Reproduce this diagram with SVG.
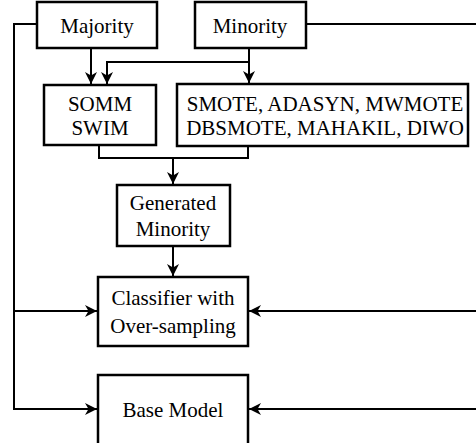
<svg xmlns="http://www.w3.org/2000/svg" width="476" height="443" viewBox="0 0 476 443">
<style>
.box{fill:#fff;stroke:#000;stroke-width:2.5}
.ln{fill:none;stroke:#000;stroke-width:2}
text{font-family:"Liberation Serif","Times New Roman",serif;font-size:21px;fill:#000;text-anchor:middle}
</style>
<defs>
<marker id="ah" viewBox="0 0 12 12" refX="12" refY="6" markerWidth="12" markerHeight="12" markerUnits="userSpaceOnUse" orient="auto">
<path d="M0,0 L12,6 L0,12 L3.5,6 z" fill="#000"/>
</marker>
</defs>
<g id="connectors">
<path class="ln" d="M37,24 H14 V409 H97" marker-end="url(#ah)"/>
<path class="ln" d="M14,311 H97" marker-end="url(#ah)"/>
<path class="ln" d="M306,24 H480"/>
<path class="ln" d="M478,311 H249" marker-end="url(#ah)"/>
<path class="ln" d="M478,409 H249" marker-end="url(#ah)"/>
<path class="ln" d="M91,48 V84" marker-end="url(#ah)"/>
<path class="ln" d="M249,62 H107 V84" marker-end="url(#ah)"/>
<path class="ln" d="M249,48 V83" marker-end="url(#ah)"/>
<path class="ln" d="M99,145 V158 H248 V146"/>
<path class="ln" d="M173,158 V184" marker-end="url(#ah)"/>
<path class="ln" d="M173,246 V276" marker-end="url(#ah)"/>
</g>
<g id="majority"><rect class="box" x="37" y="2" width="120" height="46"/><text x="97" y="33">Majority</text></g>
<g id="minority"><rect class="box" x="195" y="2" width="111" height="46"/><text x="250" y="33">Minority</text></g>
<g id="somm"><rect class="box" x="44" y="85" width="112" height="60"/><text x="100" y="111">SOMM</text><text x="100" y="135">SWIM</text></g>
<g id="smote"><rect class="box" x="177" y="84" width="291" height="62"/><text x="325" y="111">SMOTE, ADASYN, MWMOTE</text><text x="325" y="135">DBSMOTE, MAHAKIL, DIWO</text></g>
<g id="generated"><rect class="box" x="117" y="185" width="113" height="61"/><text x="173" y="210">Generated</text><text x="173" y="236">Minority</text></g>
<g id="classifier"><rect class="box" x="98" y="277" width="150" height="69"/><text x="173" y="305">Classifier with</text><text x="173" y="333">Over-sampling</text></g>
<g id="base"><rect class="box" x="98" y="375" width="150" height="100"/><text x="173" y="417">Base Model</text></g>
</svg>
